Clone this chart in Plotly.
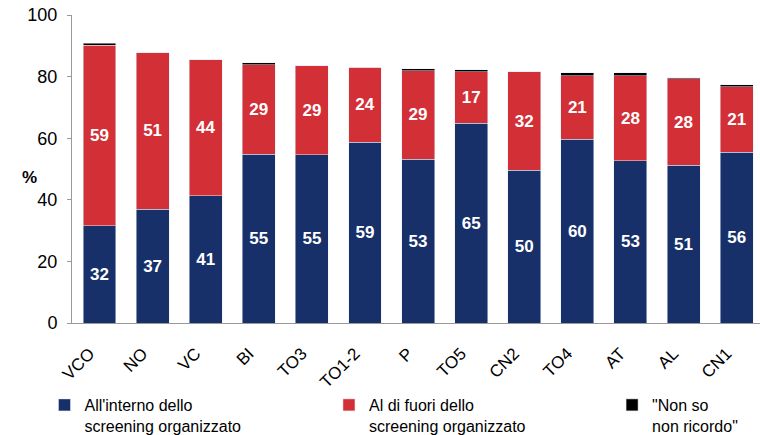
import plotly.graph_objects as go

categories = ["VCO", "NO", "VC", "BI", "TO3", "TO1-2", "P", "TO5", "CN2", "TO4", "AT", "AL", "CN1"]
inside_org = [31.6, 37.0, 41.3, 54.8, 54.7, 58.7, 53.2, 64.8, 49.6, 59.7, 52.6, 51.2, 55.5]
outside_org = [58.6, 50.8, 44.1, 29.0, 28.8, 24.4, 28.7, 16.8, 31.9, 20.6, 27.6, 28.1, 21.2]
dont_know = [0.7, 0.0, 0.0, 0.7, 0.0, 0.0, 0.6, 0.6, 0.0, 1.0, 1.1, 0.3, 0.6]

series_names = [
    "All'interno dello<br>screening organizzato",
    "Al di fuori dello<br>screening organizzato",
    "\"Non so<br>non ricordo\"",
]
y_ticks = [0, 20, 40, 60, 80, 100]

BLUE = "#17306a"
RED = "#d32f36"
BLACK = "#000000"
FONT = "Arial, Liberation Sans, sans-serif"

fig = go.Figure()
fig.add_trace(go.Bar(
    x=categories, y=inside_org, name=series_names[0], marker_color=BLUE,
    texttemplate="<b>%{y:.0f}</b>", textposition="inside", insidetextanchor="middle",
    textangle=0, textfont=dict(color="white", size=17, family=FONT),
    legend="legend",
))
fig.add_trace(go.Bar(
    x=categories, y=outside_org, name=series_names[1], marker_color=RED,
    texttemplate="<b>%{y:.0f}</b>", textposition="inside", insidetextanchor="middle",
    textangle=0, textfont=dict(color="white", size=17, family=FONT),
    legend="legend2",
))
fig.add_trace(go.Bar(
    x=categories, y=dont_know, name=series_names[2], marker_color=BLACK,
    textposition="none", legend="legend3",
))

legend_common = dict(
    orientation="h", xanchor="left", y=-0.211, yanchor="top", valign="top",
    font=dict(size=16, family=FONT), bgcolor="rgba(0,0,0,0)", itemclick=False,
)

fig.update_layout(
    barmode="stack",
    bargap=0.38,
    width=760, height=435,
    margin=dict(l=72, r=0, t=15, b=112, autoexpand=False),
    paper_bgcolor="white", plot_bgcolor="white",
    font=dict(family=FONT, color="black", size=16),
    uniformtext=dict(minsize=17, mode="show"),
    showlegend=True,
    legend=dict(x=-0.040, **legend_common),
    legend2=dict(x=0.3735, **legend_common),
    legend3=dict(x=0.785, **legend_common),
    xaxis=dict(
        range=[-0.518, 12.44], showgrid=False, showline=True, linecolor="#999999",
        linewidth=1, ticks="", tickangle=-45, tickfont=dict(size=17, family=FONT),
        automargin=False, ticklabelstandoff=3,
        tickmode="array", tickvals=categories,
        ticktext=[c + "\u00a0\u00a0\u00a0" for c in categories],
    ),
    yaxis=dict(
        range=[0, 100], tickvals=y_ticks, showgrid=False, showline=True,
        linecolor="#999999", linewidth=1, ticks="outside", ticklen=4,
        tickcolor="#999999", tickfont=dict(size=18, family=FONT),
        ticklabelstandoff=6, zeroline=False, automargin=False,
    ),
    annotations=[dict(
        text="<b>%</b>", x=-0.076, xref="paper", y=47.4, yref="y",
        showarrow=False, font=dict(size=17, family=FONT),
    )],
)

fig.write_html(
    "out.html",
    config={"displayModeBar": False},
    post_script="document.body.style.margin='0';",
)
